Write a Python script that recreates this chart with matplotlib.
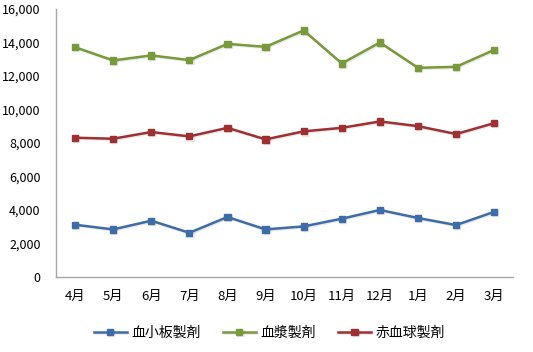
import matplotlib
matplotlib.use("Agg")
import matplotlib.pyplot as plt
import matplotlib.patheffects as pe
from matplotlib.ticker import FuncFormatter
import numpy as np

# data
months = ["4月", "5月", "6月", "7月", "8月", "9月", "10月", "11月", "12月", "1月", "2月", "3月"]
platelet = [3120, 2840, 3360, 2640, 3580, 2840, 3020, 3480, 4000, 3520, 3100, 3890]
plasma = [13710, 12920, 13220, 12940, 13910, 13730, 14710, 12740, 13990, 12480, 12540, 13550]
red_cell = [8310, 8250, 8650, 8390, 8900, 8210, 8690, 8900, 9280, 9000, 8530, 9180]

series = [("血小板製剤", platelet, "#3E6CA8"),
          ("血漿製剤", plasma, "#779A3A"),
          ("赤血球製剤", red_cell, "#9E3032")]

plt.rcParams['font.family'] = ['Noto Sans CJK JP', 'DejaVu Sans']

fig = plt.figure(figsize=(5.33, 3.52), dpi=100)
ax = fig.add_axes([0.105, 0.213, 0.858, 0.762])

x = np.arange(len(months))
shadow = [pe.SimpleLineShadow(offset=(0.8, -0.8), alpha=0.15, shadow_color="#666666"), pe.Normal()]
for name, vals, col in series:
    ax.plot(x, vals, color=col, marker='s', markersize=4.5, linewidth=1.8,
            label=name, path_effects=shadow)

ax.set_xlim(-0.5, len(months) - 0.5)
ax.set_ylim(0, 16000)
ax.set_yticks(np.arange(0, 16001, 2000))
ax.yaxis.set_major_formatter(FuncFormatter(lambda v, p: f"{int(v):,}"))
ax.set_xticks(x)
ax.set_xticklabels(months)

for s in ["top", "right"]:
    ax.spines[s].set_visible(False)
for s in ["left", "bottom"]:
    ax.spines[s].set_color("#a6a6a6")
    ax.spines[s].set_linewidth(1.0)
ax.tick_params(axis='both', length=0, colors="black")
ax.tick_params(axis='x', pad=9, labelsize=9.5)
ax.tick_params(axis='y', pad=11, labelsize=9)

fig.legend(loc='center', bbox_to_anchor=(0.505, 0.054), ncol=3, frameon=False,
           fontsize=10, handlelength=2.4, columnspacing=1.6, handletextpad=0.3)

fig.savefig("out.png", dpi=100)
